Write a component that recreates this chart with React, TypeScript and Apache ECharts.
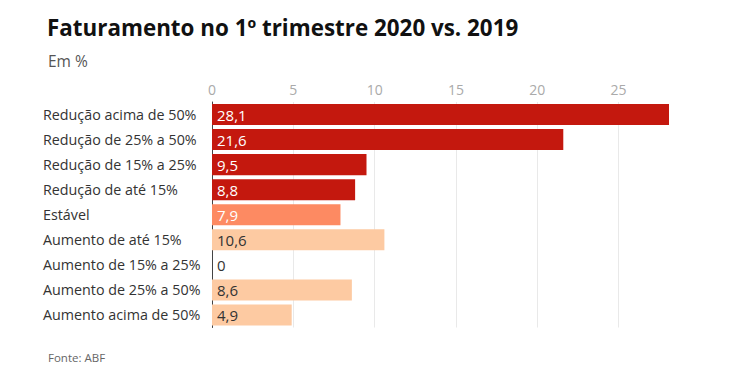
import React, { useEffect, useRef } from "react";
import * as echarts from "echarts";

const categories = [
  "Redução acima de 50%",
  "Redução de 25% a 50%",
  "Redução de 15% a 25%",
  "Redução de até 15%",
  "Estável",
  "Aumento de até 15%",
  "Aumento de 15% a 25%",
  "Aumento de 25% a 50%",
  "Aumento acima de 50%",
];
const values = [28.1, 21.6, 9.5, 8.8, 7.9, 10.6, 0, 8.6, 4.9];
const groups = ["red", "red", "red", "red", "stable", "up", "up", "up", "up"];
const tickValues = [0, 5, 10, 15, 20, 25];

const colors: Record<string, string> = { red: "#c4180e", stable: "#fd8a62", up: "#fdcaa2" };
const labelColors: Record<string, string> = { red: "#ffffff", stable: "#ffffff", up: "#333333" };
const FONT = "'Open Sans', 'Noto Sans', sans-serif";

export default function App() {
  const ref = useRef<HTMLDivElement>(null);
  useEffect(() => {
    if (!ref.current) return;
    const chart = echarts.init(ref.current, null, { renderer: "svg" });
    chart.setOption({
      animation: false,
      backgroundColor: "#ffffff",
      textStyle: { fontFamily: FONT },
      title: [
        {
          text: "Faturamento no 1º trimestre 2020 vs. 2019",
          left: 42,
          top: 11,
          textStyle: { fontFamily: FONT, fontWeight: "bold", fontSize: 22.4, color: "#111111" },
        },
        {
          text: "Em %",
          left: 43,
          top: 48,
          textStyle: { fontFamily: FONT, fontWeight: "normal", fontSize: 15.5, color: "#555555" },
        },
        {
          text: "Fonte: ABF",
          left: 43,
          top: 346,
          textStyle: { fontFamily: FONT, fontWeight: "normal", fontSize: 11.5, color: "#666666" },
        },
      ],
      grid: { left: 212, right: 74, top: 102, height: 225.5, containLabel: false },
      xAxis: {
        type: "value",
        position: "top",
        min: 0,
        max: 28.1,
        interval: 5,
        axisLine: { show: false },
        axisTick: { show: false },
        splitLine: { show: true, showMaxLine: false, lineStyle: { color: "#e9e9e9", width: 1 } },
        axisLabel: {
          color: "#aaaaaa",
          fontSize: 14,
          fontFamily: FONT,
          margin: 6,
          showMaxLabel: false,
          formatter: (v: number) => (tickValues.includes(v) ? String(v) : ""),
        },
      },
      yAxis: {
        type: "category",
        data: categories,
        inverse: true,
        axisLine: { show: true, lineStyle: { color: "#444444", width: 1 } },
        axisTick: { show: false },
        axisLabel: {
          color: "#333333",
          fontSize: 14.3,
          fontFamily: FONT,
          align: "left",
          margin: 169,
        },
      },
      series: [
        {
          type: "bar",
          barCategoryGap: "16%",
          data: values.map((v, i) => ({
            value: v,
            itemStyle: { color: colors[groups[i]] },
            label: { color: labelColors[groups[i]] },
          })),
          label: {
            show: true,
            position: "insideLeft",
            distance: 5,
            fontSize: 15,
            fontFamily: FONT,
            formatter: (p: any) => String(p.value).replace(".", ","),
          },
        },
      ],
    });
    return () => chart.dispose();
  }, []);
  return <div ref={ref} style={{ width: 743, height: 388, position: "absolute", left: 0, top: 0 }} />;
}
